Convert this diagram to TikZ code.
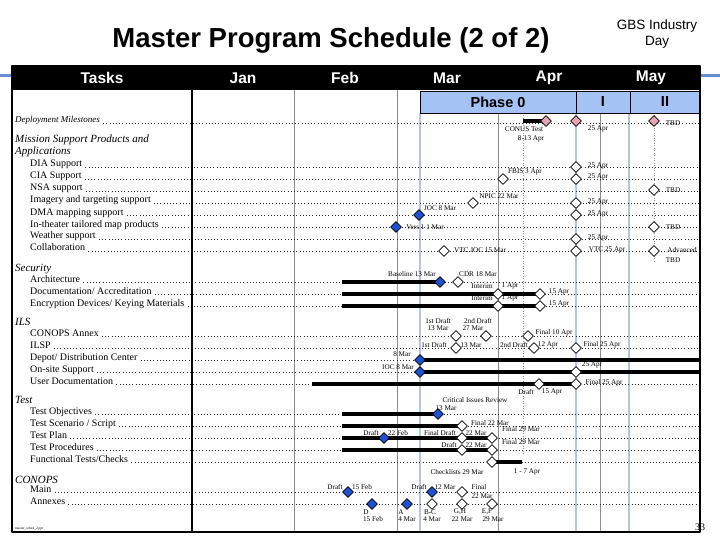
\documentclass[tikz,border=0pt]{standalone}
\usepackage{fontspec}
\setmainfont{Liberation Serif}
\newfontfamily\headfont{Liberation Sans}
\usetikzlibrary{shapes.geometric}
\definecolor{phaseblue}{RGB}{164,194,244}
\definecolor{gridblue}{RGB}{178,198,224}
\definecolor{gridgray}{RGB}{140,140,140}
\definecolor{mspink}{RGB}{232,164,180}
\definecolor{msblue}{RGB}{30,80,210}
\definecolor{tmplblue}{RGB}{106,143,208}
\pgfdeclarelayer{gridlayer}
\pgfdeclarelayer{barlayer}
\pgfsetlayers{gridlayer,barlayer,main}
\tikzset{
  ms/.style={diamond,draw=black,line width=0.7pt,fill=white,minimum width=11pt,minimum height=11pt,inner sep=0pt},
  msp/.style={ms,fill=mspink},
  msb/.style={ms,fill=msblue},
  bar/.style={line width=4pt},
  lbl/.style={font=\fontsize{7.2}{8}\selectfont,inner sep=0pt},
  task/.style={font=\fontsize{10}{11}\selectfont,anchor=base west,inner sep=0pt},
  grp/.style={font=\itshape\fontsize{11}{12}\selectfont,anchor=base west,inner sep=0pt},
  leader/.style={black!85,line width=0.7pt,dash pattern=on 0.7pt off 2.5pt},
  hdr/.style={font=\headfont\bfseries\fontsize{15.5}{17}\selectfont,text=white,inner sep=0pt},
  phs/.style={font=\headfont\bfseries\fontsize{14.5}{16}\selectfont,inner sep=0pt}
}
\begin{document}
\begin{tikzpicture}[x=1pt,y=-1pt,line join=round]
\useasboundingbox (0,0) rectangle (720,540);
\coordinate (rb) at (700,0);
\coordinate (bs) at (342,0);
\coordinate (bu) at (312,0);
\coordinate (bd) at (523,0);
\coordinate (bf) at (522,0);
\node[font=\headfont\bfseries\fontsize{27.5}{30}\selectfont] (title) at (331,40) {Master Program Schedule (2 of 2)};
\node[font=\headfont\fontsize{13.5}{16}\selectfont,align=center] (event) at (657,34) {GBS Industry\\Day};
\fill (12,66) rectangle (700,90);
\draw[tmplblue,line width=3pt] (0,75.5) -- (12,75.5) (700,75.5) -- (720,75.5);
\foreach \x/\m in {102/Tasks,243/Jan,345/Feb,447/Mar,549/Apr,651/May}
  \node[hdr] (hd\m) at (\x,78) {\m};
\begin{pgfonlayer}{gridlayer}
  \draw[gridgray,line width=0.8pt] (294,90) -- (294,532) (397,90) -- (397,532) (498,113) -- (498,532) (600,113) -- (600,532);
  \draw[gridblue,line width=2pt] (420,113) -- (420,532) (576,113) -- (576,532) (629,113) -- (629,532);
  \draw[gridgray,line width=0.7pt,dash pattern=on 1pt off 1.5pt] (523,113) -- (523,455) (654,113) -- (654,262);
\end{pgfonlayer}
\draw[fill=phaseblue,line width=0.8pt] (420,91) rectangle (700,113) (576,91) -- (576,113) (630,91) -- (630,113);
\node[phs] (ph0) at (498,102) {Phase 0};
\node[phs] (ph1) at (603,102) {I};
\node[phs] (ph2) at (665,102) {II};
\draw[line width=1.8pt] (192,90) -- (192,532);
\draw[line width=2.5pt] (12,66) rectangle (700,532);
\node[grp,font=\itshape\fontsize{9}{10}\selectfont] (dep) at (15,123) {Deployment Milestones};
\begin{pgfonlayer}{gridlayer}
  \draw[leader] ([xshift=3pt]dep.base east) -- (dep.base -| rb);
\end{pgfonlayer}
\node[grp] (msn) at (15,143) {Mission Support Products and};
\node[grp] (app) at (15,155) {Applications};
\node[grp] (sec) at (15,271) {Security};
\node[grp] (ils) at (15,325) {ILS};
\node[grp] (tst) at (15,403) {Test};
\node[grp] (cnp) at (15,483) {CONOPS};
\foreach \y/\t in {167/DIA Support,179/CIA Support,191/NSA support,203/Imagery and targeting support,215/DMA mapping support,227/In-theater tailored map products,239/Weather support,251/Collaboration,282/Architecture,294/{Documentation/ Accreditation},306/{Encryption Devices/ Keying Materials},336/CONOPS Annex,348/ILSP,360/{Depot/ Distribution Center},372/On-site Support,384/User Documentation,414/Test Objectives,426/{Test Scenario / Script},438/Test Plan,450/Test Procedures,462/{Functional Tests/Checks},492/Main,504/Annexes}{
  \node[task] (task\y) at (30,\y) {\t};
  \begin{pgfonlayer}{gridlayer}
    \draw[leader] ([xshift=3pt]task\y.base east) -- (task\y.base -| rb);
  \end{pgfonlayer}
}
\foreach \s/\x/\y in {msp/546/121,msp/576/121,msp/654/121,ms/576/167,ms/503/179,ms/576/179,ms/654/190,ms/473/203,ms/576/203,msb/419/215,ms/576/215,msb/396/227,ms/654/227,ms/576/239,ms/444/251,ms/576/251,ms/654/251,msb/440/282,ms/458/282,ms/498/294,ms/540/294,ms/498/306,ms/540/306,ms/456/336,ms/486/336,ms/528/336,ms/456/348,ms/534/348,ms/576/348,msb/420/360,msb/420/372,ms/576/372,ms/539/384,ms/576/384,msb/438/414,ms/462/426,msb/384/438,ms/462/438,ms/492/438,ms/462/450,ms/492/450,ms/492/462,msb/348/492,msb/432/492,ms/462/492,msb/372/504,msb/407/504,ms/432/504,ms/462/504,ms/492/504}
  \node[\s] (m\x-\y) at (\x,\y) {};
\begin{pgfonlayer}{barlayer}
  \draw[bar] (m546-121.center -| bd) -- (m546-121.center);
  \draw[bar] (m440-282.center -| bs) -- (m440-282.center);
  \draw[bar] (m540-294.center -| bs) -- (m540-294.center);
  \draw[bar] (m540-306.center -| bs) -- (m540-306.center);
  \draw[bar] (m420-360.center) -- (m420-360.center -| rb);
  \draw[bar] (m420-372.center) -- (m420-372.center -| rb);
  \draw[bar] (m576-384.center -| bu) -- (m576-384.center);
  \draw[bar] (m438-414.center -| bs) -- (m438-414.center);
  \draw[bar] (m462-426.center -| bs) -- (m462-426.center);
  \draw[bar] (m492-438.center -| bs) -- (m492-438.center);
  \draw[bar] (m492-450.center -| bs) -- (m492-450.center);
  \draw[bar] (m492-462.center) -- (m492-462.center -| bf);
\end{pgfonlayer}
\foreach \x/\y/\t in {524/129/CONUS Test,531/139/8-13 Apr,598/129/25 Apr,673/123/TBD,598/166/25 Apr,525/172/FBIS 3 Apr,598/177/25 Apr,673/190/TBD,499/196/NPIC 22 Mar,598/202/25 Apr,440/208/JOC 8 Mar,598/214/25 Apr,425/227/Vers 1 1 Mar,673/227/TBD,598/238/25 Apr,480/250/VTC JOC 15 Mar,607/250/VTC 25 Apr,682/250/Advanced,673/260/TBD,412/274/Baseline 13 Mar,478/274/CDR 18 Mar,482/286/Interim,510/286/1 Apr,559/292/15 Apr,482/298/Interim,510/298/1 Apr,559/304/15 Apr,438/321/1st Draft,438/328/13 Mar,478/321/2nd Draft,473/328/27 Mar,554/333/Final 10 Apr,434/345/1st Draft,471/345/13 Mar,514/345/2nd Draft,548/345/12 Apr,602/345/Final 25 Apr,402/354/8 Mar,398/367/IOC 8 Mar,592/365/25 Apr,526/392/Draft,552/392/15 Apr,604/383/Final 25 Apr,475/400/Critical Issues Review,446/408/13 Mar,490/423/Final 22 Mar,371/433/Draft,398/433/22 Feb,440/433/Final Draft,476/433/22 Mar,521/429/Final 29 Mar,449/445/Draft,476/445/22 Mar,521/442/Final 29 Mar,457/472/Checklists 29 Mar,527/472/1 - 7 Apr,335/487/Draft,362/487/15 Feb,419/487/Draft,445/487/12 Mar,479/487/Final,482/496/22 Mar,366/512/D,373/519/15 Feb,401/512/A,407/519/4 Mar,430/512/B-C,432/519/4 Mar,460/512/{G,H},462/519/22 Mar,487/512/{E,F},493/519/29 Mar}
  \node[lbl] (lab\x-\y) at (\x,\y) {\t};
\node[font=\fontsize{3.5}{4}\selectfont,anchor=west,inner sep=0pt] (file) at (15,529) {master\_sched\_2.ppt};
\node[font=\fontsize{10}{12}\selectfont] (pg) at (700,527) {33};
\end{tikzpicture}
\end{document}
